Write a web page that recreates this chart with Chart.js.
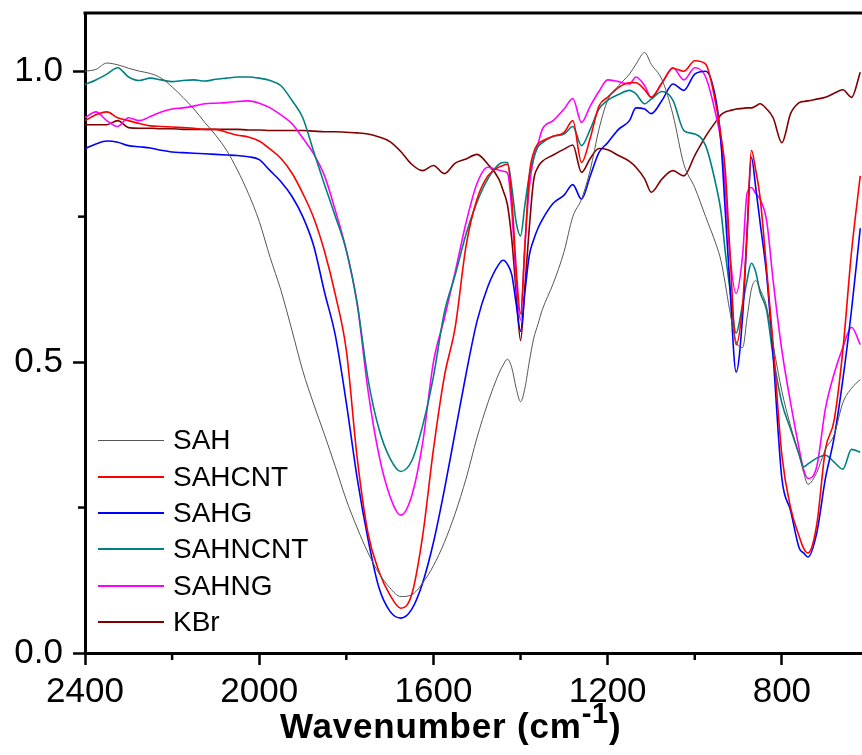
<!DOCTYPE html>
<html>
<head>
<meta charset="utf-8">
<script src="https://cdn.jsdelivr.net/npm/chart.js@4.4.0/dist/chart.umd.min.js"></script>
<style>
  body { margin: 0; background: #fff; }
  #wrap { position: relative; width: 862px; height: 755px; }
  #legend { position: absolute; left: 98px; top: 422px; font: 28px "Liberation Sans", Arial, sans-serif; color: #000; }
  .row { height: 36.4px; display: flex; align-items: center; }
  .swatch { width: 66px; margin-right: 9px; }
  #xtitle { position: absolute; left: 280px; top: 708px; font: bold 35px/1 "Liberation Sans", Arial, sans-serif; letter-spacing: 0.8px; color: #000; white-space: nowrap; }
  #xtitle span { font-size: 29px; position: relative; top: -15px; }
</style>
</head>
<body>
<div id="wrap">
  <canvas id="ftir" width="862" height="755"></canvas>
  <div id="legend"></div>
  <div id="xtitle">Wavenumber (cm<span>-1</span>)</div>
</div>
<script>
// wavenumber grid (cm-1), shared by all spectra
const wavenumbers = [
  2400, 2375, 2350, 2325, 2300, 2275, 2250, 2225, 2200, 2175,
  2150, 2125, 2100, 2075, 2050, 2025, 2000, 1975, 1950, 1925,
  1900, 1875, 1850, 1825, 1800, 1775, 1750, 1725, 1700, 1675,
  1650, 1625, 1600, 1575, 1550, 1525, 1500, 1475, 1450, 1440,
  1430, 1420, 1410, 1400, 1390, 1380, 1370, 1360, 1350, 1325,
  1300, 1280, 1260, 1240, 1220, 1200, 1175, 1150, 1135, 1115,
  1100, 1075, 1050, 1025, 1000, 975, 950, 940, 930, 920,
  905, 890, 880, 870, 860, 850, 835, 820, 800, 780,
  760, 750, 740, 720, 700, 680, 660, 640, 620
];

const sah = [
  1.000, 1.003, 1.014, 1.011, 1.005, 1.000, 0.996, 0.988, 0.973, 0.955,
  0.935, 0.912, 0.890, 0.864, 0.830, 0.790, 0.742, 0.680, 0.623, 0.555,
  0.485, 0.428, 0.375, 0.320, 0.263, 0.215, 0.172, 0.137, 0.112, 0.097,
  0.100, 0.120, 0.150, 0.190, 0.240, 0.300, 0.370, 0.430, 0.480, 0.495,
  0.505, 0.490, 0.455, 0.432, 0.455, 0.500, 0.540, 0.565, 0.590, 0.635,
  0.690, 0.750, 0.780, 0.830, 0.900, 0.950, 0.975, 0.995, 1.012, 1.032,
  1.012, 0.985, 0.925, 0.840, 0.800, 0.750, 0.700, 0.675, 0.635, 0.590,
  0.535, 0.525, 0.575, 0.625, 0.640, 0.625, 0.595, 0.530, 0.450, 0.390,
  0.340, 0.310, 0.290, 0.310, 0.350, 0.375, 0.430, 0.455, 0.470
];

const sahCnt = [
  0.915, 0.925, 0.930, 0.920, 0.915, 0.910, 0.906, 0.905, 0.904, 0.903,
  0.902, 0.900, 0.900, 0.895, 0.890, 0.887, 0.880, 0.866, 0.850, 0.825,
  0.790, 0.748, 0.690, 0.615, 0.520, 0.335, 0.205, 0.140, 0.100, 0.077,
  0.100, 0.200, 0.350, 0.475, 0.560, 0.700, 0.780, 0.820, 0.835, 0.838,
  0.840, 0.780, 0.660, 0.583, 0.700, 0.820, 0.860, 0.875, 0.880, 0.888,
  0.895, 0.915, 0.843, 0.885, 0.940, 0.955, 0.972, 0.980, 0.980, 0.968,
  0.955, 0.980, 1.005, 1.000, 1.018, 1.012, 0.937, 0.890, 0.830, 0.700,
  0.530, 0.600, 0.720, 0.864, 0.830, 0.783, 0.660, 0.530, 0.340, 0.250,
  0.200, 0.180, 0.172, 0.220, 0.350, 0.400, 0.520, 0.690, 0.820
];

const sahG = [
  0.867, 0.875, 0.880, 0.878, 0.872, 0.870, 0.868, 0.864, 0.861, 0.860,
  0.859, 0.858, 0.857, 0.856, 0.855, 0.853, 0.848, 0.829, 0.810, 0.785,
  0.750, 0.700, 0.620, 0.545, 0.430, 0.300, 0.195, 0.112, 0.072, 0.060,
  0.075, 0.120, 0.190, 0.280, 0.380, 0.480, 0.570, 0.630, 0.668, 0.675,
  0.668, 0.650, 0.600, 0.553, 0.620, 0.683, 0.710, 0.730, 0.745, 0.773,
  0.787, 0.805, 0.780, 0.820, 0.860, 0.877, 0.900, 0.915, 0.937, 0.935,
  0.927, 0.950, 0.978, 0.967, 0.995, 1.000, 0.945, 0.880, 0.760, 0.640,
  0.483, 0.580, 0.720, 0.852, 0.800, 0.740, 0.650, 0.510, 0.300, 0.245,
  0.180, 0.172, 0.165, 0.206, 0.300, 0.370, 0.470, 0.590, 0.730
];

const sahnCnt = [
  0.977, 0.985, 0.995, 1.006, 0.990, 0.984, 0.988, 0.985, 0.982, 0.984,
  0.985, 0.983, 0.986, 0.988, 0.990, 0.990, 0.988, 0.984, 0.975, 0.950,
  0.920, 0.862, 0.805, 0.750, 0.692, 0.600, 0.470, 0.385, 0.335, 0.312,
  0.330, 0.390, 0.475, 0.585, 0.650, 0.720, 0.775, 0.815, 0.840, 0.843,
  0.843, 0.800, 0.740, 0.717, 0.770, 0.820, 0.850, 0.870, 0.877, 0.888,
  0.892, 0.905, 0.872, 0.900, 0.935, 0.950, 0.960, 0.967, 0.961, 0.944,
  0.952, 0.965, 0.950, 0.898, 0.892, 0.872, 0.800, 0.760, 0.690, 0.630,
  0.550, 0.600, 0.640, 0.670, 0.655, 0.620, 0.589, 0.510, 0.430, 0.385,
  0.340, 0.320, 0.325, 0.335, 0.340, 0.328, 0.316, 0.350, 0.345
];

const sahnG = [
  0.920, 0.930, 0.915, 0.905, 0.920, 0.915, 0.922, 0.930, 0.935, 0.937,
  0.940, 0.944, 0.945, 0.946, 0.948, 0.949, 0.945, 0.937, 0.925, 0.910,
  0.885, 0.858, 0.820, 0.760, 0.692, 0.600, 0.450, 0.340, 0.270, 0.237,
  0.270, 0.360, 0.500, 0.575, 0.655, 0.740, 0.807, 0.835, 0.830, 0.828,
  0.825, 0.760, 0.640, 0.572, 0.700, 0.800, 0.850, 0.875, 0.900, 0.915,
  0.935, 0.953, 0.912, 0.940, 0.965, 0.985, 0.982, 0.978, 0.990, 0.975,
  0.955, 0.980, 1.006, 0.985, 1.006, 0.990, 0.920, 0.880, 0.800, 0.690,
  0.618, 0.685, 0.790, 0.800, 0.790, 0.780, 0.743, 0.640, 0.520, 0.430,
  0.350, 0.315, 0.300, 0.320, 0.420, 0.480, 0.525, 0.560, 0.530
];

const kbr = [
  0.908, 0.908, 0.908, 0.915, 0.903, 0.902, 0.902, 0.901, 0.901, 0.900,
  0.900, 0.900, 0.900, 0.900, 0.900, 0.899, 0.899, 0.898, 0.898, 0.898,
  0.898, 0.897, 0.896, 0.896, 0.895, 0.894, 0.892, 0.887, 0.879, 0.862,
  0.840, 0.829, 0.838, 0.824, 0.842, 0.849, 0.857, 0.840, 0.815, 0.795,
  0.770, 0.710, 0.620, 0.537, 0.630, 0.730, 0.812, 0.835, 0.845, 0.856,
  0.866, 0.873, 0.826, 0.850, 0.867, 0.865, 0.855, 0.845, 0.835, 0.815,
  0.792, 0.815, 0.829, 0.820, 0.855, 0.888, 0.915, 0.925, 0.930, 0.932,
  0.935, 0.936, 0.937, 0.937, 0.940, 0.944, 0.935, 0.920, 0.877, 0.927,
  0.946, 0.948, 0.949, 0.952, 0.955, 0.962, 0.968, 0.955, 0.998
];

const seriesNames = ["SAH", "SAHCNT", "SAHG", "SAHNCNT", "SAHNG", "KBr"];
const seriesValues = [sah, sahCnt, sahG, sahnCnt, sahnG, kbr];
const seriesColors = ["#555555", "#ff0000", "#0000ff", "#008080", "#ff00ff", "#800000"];
const seriesWidths = [1, 1.6, 1.6, 1.6, 1.6, 1.6];

// axis ticks
const xMajorTicks = [2400, 2000, 1600, 1200, 800];
const xMinorTicks = [2200, 1800, 1400, 1000];
const yMinorTicks = [0.25, 0.75];

const fontFamily = '"Liberation Sans", Arial, sans-serif';

// Frame top line + minor ticks
const framePlugin = {
  id: "frame",
  afterDraw(chart) {
    const { ctx, chartArea, scales } = chart;
    ctx.save();
    ctx.strokeStyle = "#000";
    ctx.lineWidth = 3;
    ctx.beginPath();
    ctx.moveTo(chartArea.left - 1.5, chartArea.top);
    ctx.lineTo(chartArea.right, chartArea.top);
    ctx.stroke();

    ctx.lineWidth = 2.5;
    xMinorTicks.forEach(function (v) {
      const px = scales.x.getPixelForValue(v);
      ctx.beginPath();
      ctx.moveTo(px, chartArea.bottom);
      ctx.lineTo(px, chartArea.bottom + 7);
      ctx.stroke();
    });
    yMinorTicks.forEach(function (v) {
      const py = scales.y.getPixelForValue(v);
      ctx.beginPath();
      ctx.moveTo(chartArea.left, py);
      ctx.lineTo(chartArea.left - 7, py);
      ctx.stroke();
    });
    ctx.restore();
  },
};

const datasets = seriesNames.map(function (name, i) {
  return {
    label: name,
    data: wavenumbers.map(function (w, j) {
      return { x: w, y: seriesValues[i][j] };
    }),
    borderColor: seriesColors[i],
    borderWidth: seriesWidths[i],
    pointRadius: 0,
    cubicInterpolationMode: "monotone",
    fill: false,
  };
});

new Chart(document.getElementById("ftir"), {
  type: "line",
  data: { datasets: datasets },
  options: {
    responsive: false,
    animation: false,
    layout: { padding: { top: 13, right: 0, left: 0, bottom: 0 } },
    plugins: {
      legend: { display: false },
      tooltip: { enabled: false },
    },
    scales: {
      x: {
        type: "linear",
        reverse: true,
        min: 616,
        max: 2400,
        afterFit: function (scale) {
          scale.height = 102;
          scale.paddingLeft = 0;
          scale.paddingRight = 0;
        },
        afterBuildTicks: function (scale) {
          scale.ticks = xMajorTicks.map(function (v) {
            return { value: v };
          });
        },
        grid: {
          drawOnChartArea: false,
          tickLength: 12,
          tickWidth: 2.5,
          tickColor: "#000",
        },
        border: { width: 3, color: "#000" },
        ticks: {
          color: "#000",
          font: { size: 35, family: fontFamily },
          padding: 6,
          maxRotation: 0,
          autoSkip: false,
          callback: function (value) {
            return String(value);
          },
        },
      },
      y: {
        min: 0,
        max: 1.1,
        afterFit: function (scale) {
          scale.width = 85;
          scale.paddingTop = 0;
          scale.paddingBottom = 0;
        },
        grid: {
          drawOnChartArea: false,
          tickLength: 12,
          tickWidth: 2.5,
          tickColor: "#000",
        },
        border: { width: 3, color: "#000" },
        ticks: {
          stepSize: 0.5,
          includeBounds: false,
          color: "#000",
          font: { size: 35, family: fontFamily },
          padding: 10,
          callback: function (value) {
            return value.toFixed(1);
          },
        },
      },
    },
  },
  plugins: [framePlugin],
});

// Legend (inside plot, lower left)
const legend = document.getElementById("legend");
seriesNames.forEach(function (name, i) {
  const row = document.createElement("div");
  row.className = "row";
  const sw = document.createElement("div");
  sw.className = "swatch";
  sw.style.borderTop = (i === 0 ? 1 : 2) + "px solid " + seriesColors[i];
  const label = document.createElement("span");
  label.textContent = name;
  row.appendChild(sw);
  row.appendChild(label);
  legend.appendChild(row);
});
</script>
</body>
</html>
